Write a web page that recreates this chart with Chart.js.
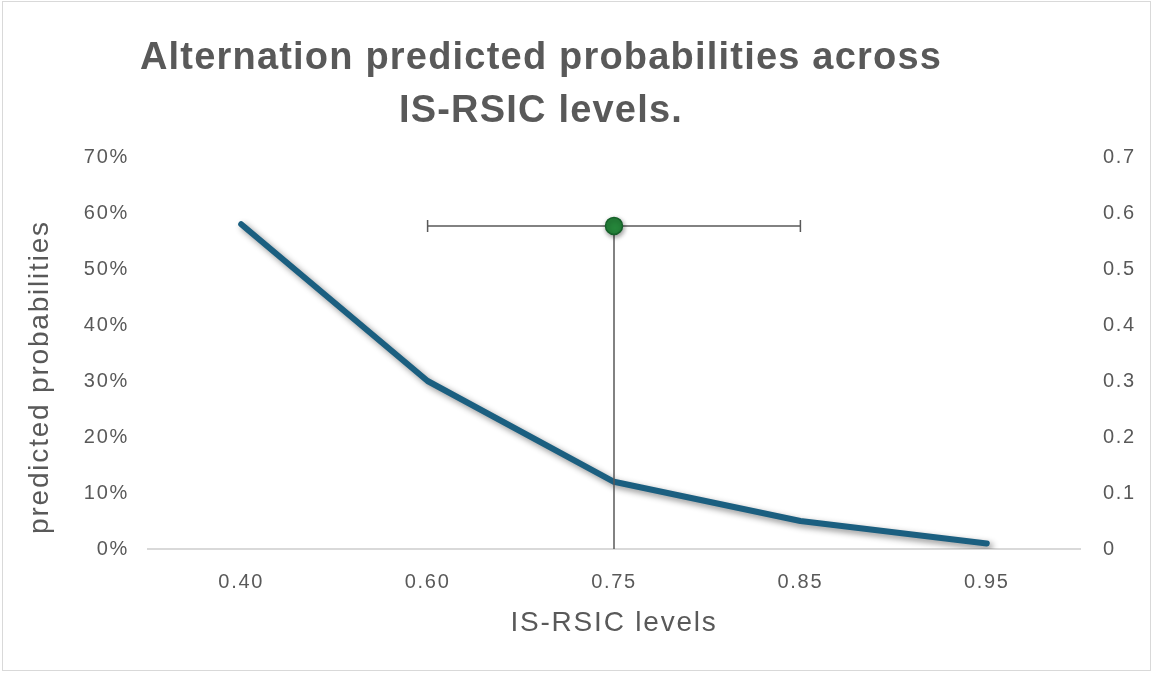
<!DOCTYPE html>
<html lang="en">
<head>
  <meta charset="UTF-8">
  <title>Alternation predicted probabilities</title>
  <script src="https://cdn.jsdelivr.net/npm/chart.js"></script>
  <style>
    html, body { margin: 0; padding: 0; background: #ffffff; }
    #wrap { width: 1153px; height: 673px; }
  </style>
</head>
<body>
  <div id="wrap"><canvas id="chart" width="1153" height="673"></canvas></div>

  <script>
    // data
    const levels = ['0.40', '0.60', '0.75', '0.85', '0.95'];
    const probs = [0.58, 0.30, 0.12, 0.05, 0.01];
    const pointLevel = ['0.75'];
    const pointProb = [0.577];
    const errXMinus = [1];   // in category steps
    const errXPlus = [1];
    const errYMinus = [0.577];
    const leftTicks = ['0%', '10%', '20%', '30%', '40%', '50%', '60%', '70%'];
    const rightTicks = ['0', '0.1', '0.2', '0.3', '0.4', '0.5', '0.6', '0.7'];

    const titleLines = ['Alternation predicted probabilities across', 'IS-RSIC levels.'];
    const xTitle = 'IS-RSIC levels';
    const yTitle = 'predicted probabilities';

    const grey = '#595959';
    const tickFont = { family: 'Liberation Sans, Arial, sans-serif', size: 20 };

    const decor = {
      id: 'decor',
      beforeDraw(chart) {
        const c = chart.ctx;
        c.letterSpacing = '1.7px';
        c.save();
        c.strokeStyle = '#d9d9d9';
        c.lineWidth = 1;
        c.strokeRect(2.5, 1.5, 1148, 669);
        c.restore();
      },
      beforeDatasetDraw(chart, args) {
        const c = chart.ctx;
        if (args.index === 0) {
          c.save();
          c.shadowColor = 'rgba(0,0,0,0.45)';
          c.shadowBlur = 6;
          c.shadowOffsetX = 3;
          c.shadowOffsetY = 3;
        }
        if (args.index === 1) {
          const pt = chart.getDatasetMeta(1).data[0];
          const xs = chart.scales.x, ys = chart.scales.y1;
          const i = levels.indexOf(pointLevel[0]);
          const x0 = xs.getPixelForValue(i - errXMinus[0]);
          const x1 = xs.getPixelForValue(i + errXPlus[0]);
          const yb = ys.getPixelForValue(pointProb[0] - errYMinus[0]);
          c.save();
          c.strokeStyle = grey;
          c.lineWidth = 1.5;
          c.beginPath();
          c.moveTo(x0, pt.y); c.lineTo(x1, pt.y);
          c.moveTo(x0, pt.y - 6); c.lineTo(x0, pt.y + 6);
          c.moveTo(x1, pt.y - 6); c.lineTo(x1, pt.y + 6);
          c.moveTo(pt.x, pt.y); c.lineTo(pt.x, yb);
          c.stroke();
          c.restore();
          c.save();
          c.shadowColor = 'rgba(0,0,0,0.4)';
          c.shadowBlur = 5;
          c.shadowOffsetX = 1;
          c.shadowOffsetY = 2;
        }
      },
      afterDatasetDraw(chart) {
        chart.ctx.restore();
      },
      afterDraw(chart) {
        const c = chart.ctx;
        const area = chart.chartArea;
        c.save();
        c.fillStyle = grey;
        c.textAlign = 'center';
        c.textBaseline = 'alphabetic';
        c.letterSpacing = '1.2px';
        c.font = 'bold 38px "Liberation Sans", Arial, sans-serif';
        c.fillText(titleLines[0], 541, 69);
        c.fillText(titleLines[1], 541, 122);

        c.letterSpacing = '1.8px';
        c.font = '28px "Liberation Sans", Arial, sans-serif';
        c.textBaseline = 'middle';
        c.fillText(xTitle, (area.left + area.right) / 2, 623);
        c.translate(40, 377);
        c.rotate(-Math.PI / 2);
        c.fillText(yTitle, 0, 0);
        c.restore();
      }
    };

    new Chart(document.getElementById('chart'), {
      data: {
        labels: levels,
        datasets: [
          {
            type: 'line',
            data: probs,
            yAxisID: 'y',
            borderColor: '#1b5f80',
            borderWidth: 6,
            borderCapStyle: 'round',
            borderJoinStyle: 'round',
            pointRadius: 0,
            tension: 0,
            order: 1
          },
          {
            type: 'line',
            data: pointLevel.map((l, k) => ({ x: l, y: pointProb[k] })),
            yAxisID: 'y1',
            showLine: false,
            pointRadius: 8.5,
            pointBackgroundColor: '#25853a',
            pointBorderColor: '#16612a',
            pointBorderWidth: 1.5,
            order: 0
          }
        ]
      },
      options: {
        responsive: false,
        animation: false,
        layout: { padding: { top: 157, left: 0, right: 0, bottom: 0 } },
        plugins: {
          legend: { display: false },
          title: { display: false },
          tooltip: { enabled: false }
        },
        scales: {
          x: {
            offset: true,
            grid: { display: false, drawTicks: false },
            border: { display: true, color: '#d9d9d9', width: 2 },
            ticks: { color: grey, font: tickFont, padding: 21 },
            afterFit(s) { s.height = 124; }
          },
          y: {
            position: 'left',
            min: 0, max: 0.7,
            grid: { display: false, drawTicks: false },
            border: { display: false },
            ticks: {
              stepSize: 0.1,
              color: grey, font: tickFont, padding: 19,
              callback: (v, i) => leftTicks[i]
            },
            afterFit(s) { s.width = 148; }
          },
          y1: {
            position: 'right',
            min: 0, max: 0.7,
            grid: { display: false, drawTicks: false },
            border: { display: false },
            ticks: {
              stepSize: 0.1,
              color: grey, font: tickFont, padding: 23,
              callback: (v, i) => rightTicks[i]
            },
            afterFit(s) { s.width = 73; }
          }
        }
      },
      plugins: [decor]
    });
  </script>
</body>
</html>
